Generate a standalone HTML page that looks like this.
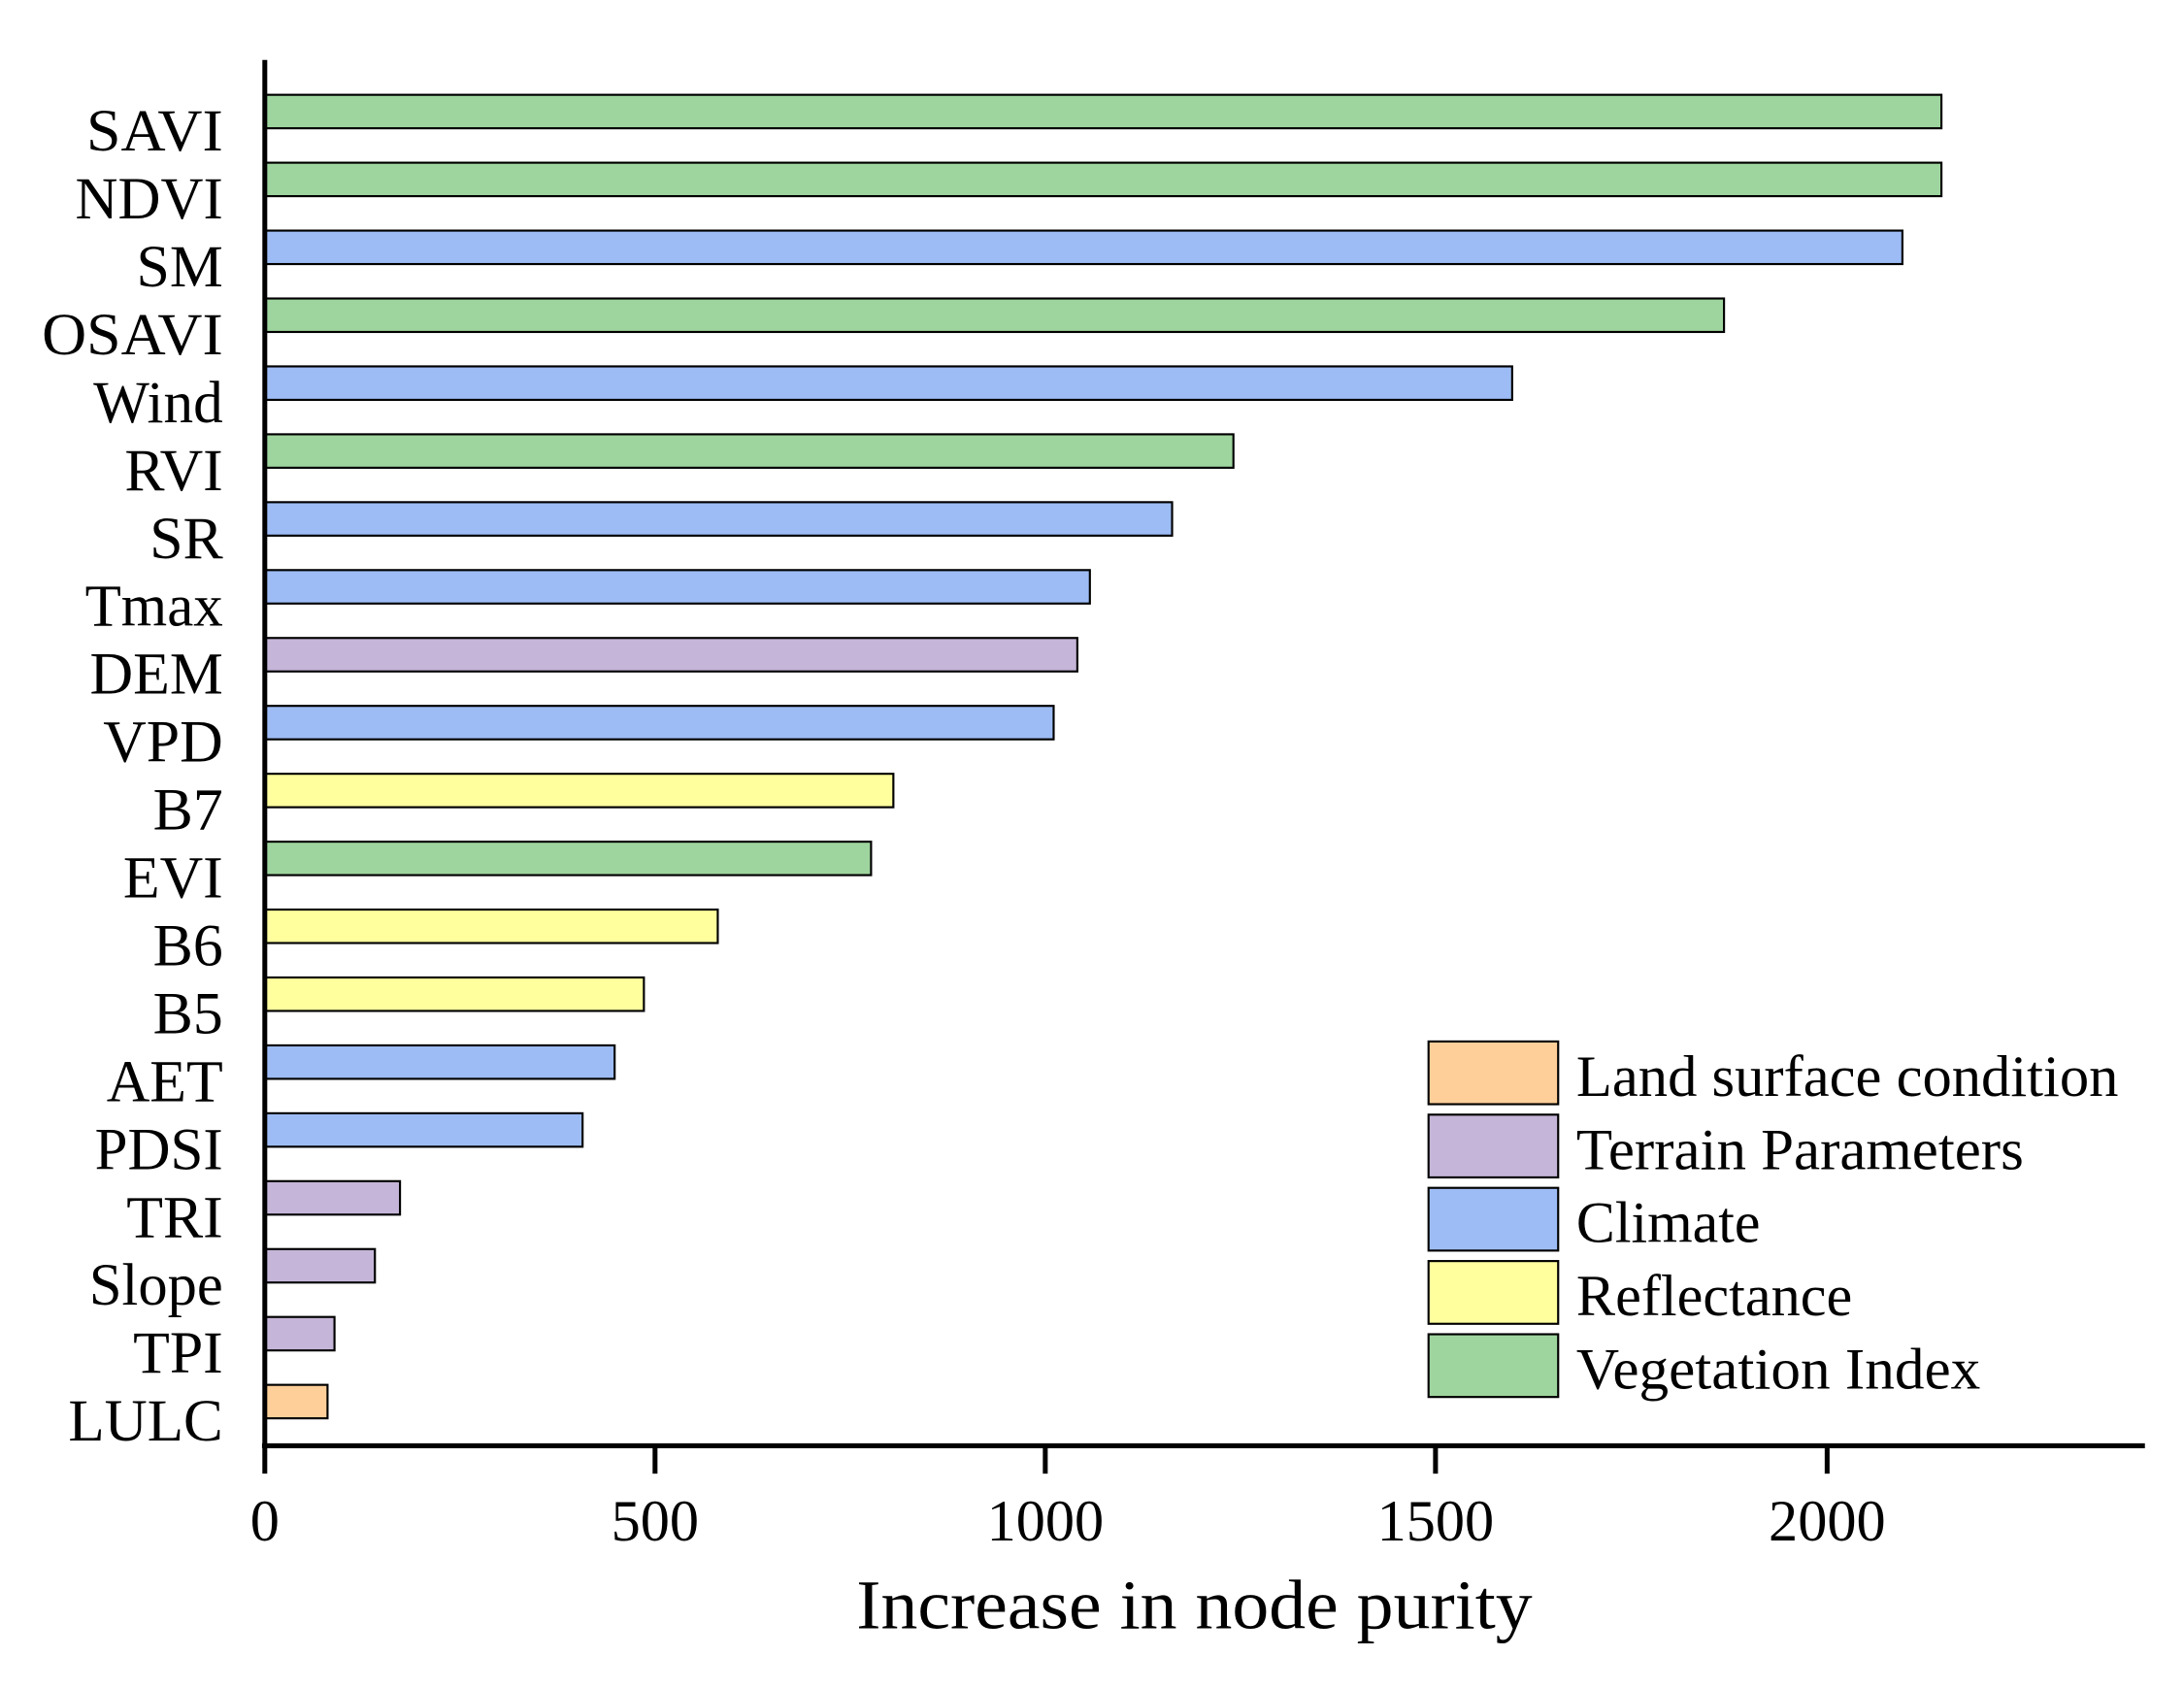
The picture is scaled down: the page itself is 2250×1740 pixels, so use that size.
<!DOCTYPE html>
<html><head><meta charset="utf-8"><style>html,body{margin:0;padding:0;background:#fff}svg{display:block}</style></head>
<body>
<svg width="2250" height="1740" viewBox="0 0 1560 1206" preserveAspectRatio="none" xmlns="http://www.w3.org/2000/svg" font-family="'Liberation Serif', serif">
<rect width="1560" height="1206" fill="#fff"/>
<g transform="scale(0.9955)">
<g stroke="#000" stroke-width="1.5">
<rect x="190" y="68" width="1203" height="24" fill="#9ed59e"/>
<rect x="190" y="116.7" width="1203" height="24" fill="#9ed59e"/>
<rect x="190" y="165.4" width="1175" height="24" fill="#9dbcf5"/>
<rect x="190" y="214.1" width="1047" height="24" fill="#9ed59e"/>
<rect x="190" y="262.8" width="895" height="24" fill="#9dbcf5"/>
<rect x="190" y="311.5" width="695" height="24" fill="#9ed59e"/>
<rect x="190" y="360.2" width="651" height="24" fill="#9dbcf5"/>
<rect x="190" y="408.9" width="592" height="24" fill="#9dbcf5"/>
<rect x="190" y="457.6" width="583" height="24" fill="#c5b5d8"/>
<rect x="190" y="506.3" width="566" height="24" fill="#9dbcf5"/>
<rect x="190" y="555" width="451" height="24" fill="#ffff9e"/>
<rect x="190" y="603.7" width="435" height="24" fill="#9ed59e"/>
<rect x="190" y="652.4" width="325" height="24" fill="#ffff9e"/>
<rect x="190" y="701.1" width="272" height="24" fill="#ffff9e"/>
<rect x="190" y="749.8" width="251" height="24" fill="#9dbcf5"/>
<rect x="190" y="798.5" width="228" height="24" fill="#9dbcf5"/>
<rect x="190" y="847.2" width="97" height="24" fill="#c5b5d8"/>
<rect x="190" y="895.9" width="79" height="24" fill="#c5b5d8"/>
<rect x="190" y="944.6" width="50" height="24" fill="#c5b5d8"/>
<rect x="190" y="993.3" width="45" height="24" fill="#ffcf99"/>
</g>
<g stroke="#000" stroke-width="3.5">
<line x1="190" y1="43" x2="190" y2="1057"/>
<line x1="188" y1="1037" x2="1539" y2="1037"/>
<line x1="470" y1="1037" x2="470" y2="1057"/>
<line x1="750" y1="1037" x2="750" y2="1057"/>
<line x1="1030" y1="1037" x2="1030" y2="1057"/>
<line x1="1311" y1="1037" x2="1311" y2="1057"/>
</g>
<g font-size="43" text-anchor="end" fill="#000" lengthAdjust="spacingAndGlyphs">
<text x="160" y="108" textLength="98" lengthAdjust="spacingAndGlyphs">SAVI</text>
<text x="160" y="156.7" textLength="106" lengthAdjust="spacingAndGlyphs">NDVI</text>
<text x="160" y="205.4">SM</text>
<text x="160" y="254.1" textLength="130" lengthAdjust="spacingAndGlyphs">OSAVI</text>
<text x="160" y="302.8" textLength="93" lengthAdjust="spacingAndGlyphs">Wind</text>
<text x="160" y="351.5">RVI</text>
<text x="160" y="400.2">SR</text>
<text x="160" y="448.9" textLength="99" lengthAdjust="spacingAndGlyphs">Tmax</text>
<text x="160" y="497.6">DEM</text>
<text x="160" y="546.3">VPD</text>
<text x="160" y="595">B7</text>
<text x="160" y="643.7">EVI</text>
<text x="160" y="692.4">B6</text>
<text x="160" y="741.1">B5</text>
<text x="160" y="789.8">AET</text>
<text x="160" y="838.5" textLength="92" lengthAdjust="spacingAndGlyphs">PDSI</text>
<text x="160" y="887.2">TRI</text>
<text x="160" y="935.9" textLength="96" lengthAdjust="spacingAndGlyphs">Slope</text>
<text x="160" y="984.6">TPI</text>
<text x="160" y="1033.3" textLength="111" lengthAdjust="spacingAndGlyphs">LULC</text>
</g>
<g font-size="42" text-anchor="middle">
<text x="190" y="1105">0</text>
<text x="470" y="1105">500</text>
<text x="750" y="1105">1000</text>
<text x="1030" y="1105">1500</text>
<text x="1311" y="1105">2000</text>
</g>
<text x="857" y="1168" font-size="50" text-anchor="middle" textLength="485" lengthAdjust="spacingAndGlyphs">Increase in node purity</text>
<g stroke="#000" stroke-width="1.5">
<rect x="1025" y="747" width="93" height="45" fill="#ffcf99"/>
<rect x="1025" y="799.5" width="93" height="45" fill="#c5b5d8"/>
<rect x="1025" y="852" width="93" height="45" fill="#9dbcf5"/>
<rect x="1025" y="904.5" width="93" height="45" fill="#ffff9e"/>
<rect x="1025" y="957" width="93" height="45" fill="#9ed59e"/>
</g>
<g font-size="42">
<text x="1131" y="786" textLength="389" lengthAdjust="spacingAndGlyphs">Land surface condition</text>
<text x="1131" y="838.5" textLength="321" lengthAdjust="spacingAndGlyphs">Terrain Parameters</text>
<text x="1131" y="891" textLength="132" lengthAdjust="spacingAndGlyphs">Climate</text>
<text x="1131" y="943.5" textLength="198" lengthAdjust="spacingAndGlyphs">Reflectance</text>
<text x="1131" y="996" textLength="290" lengthAdjust="spacingAndGlyphs">Vegetation Index</text>
</g>
</g>
</svg>
</body></html>
